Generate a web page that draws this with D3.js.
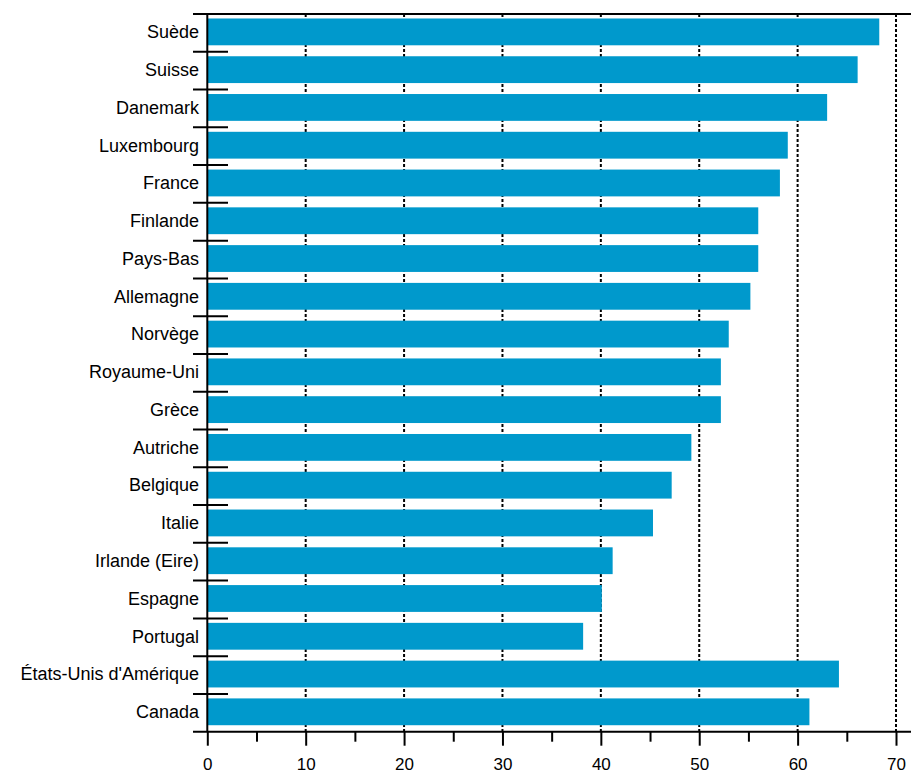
<!DOCTYPE html>
<html>
<head>
<meta charset="utf-8">
<script src="https://cdn.jsdelivr.net/npm/d3@7"></script>
<style>
  html, body { margin: 0; padding: 0; background: #fff; }
  svg { display: block; }
  text { font-family: "Liberation Sans", Arial, sans-serif; fill: #000; }
</style>
</head>
<body>
<svg id="chart" width="911" height="773"></svg>
<script>
const categories = ["Suède", "Suisse", "Danemark", "Luxembourg", "France", "Finlande", "Pays-Bas", "Allemagne", "Norvège", "Royaume-Uni", "Grèce", "Autriche", "Belgique", "Italie", "Irlande (Eire)", "Espagne", "Portugal", "États-Unis d'Amérique", "Canada"];
const values = [68.3, 66.1, 63.0, 59.0, 58.2, 56.0, 56.0, 55.2, 53.0, 52.2, 52.2, 49.2, 47.2, 45.3, 41.2, 40.1, 38.2, 64.2, 61.2];
const majorTicks = [0, 10, 20, 30, 40, 50, 60, 70];
const minorTicks = [5, 15, 25, 35, 45, 55, 65];
const gridTicks = [10, 20, 30, 40, 50, 60, 70];

(function () {
const svg = d3.select("#chart");
const pLeft = 207.3, pRight = 896, pTop = 14, pBottom = 731.7;

const x = d3.scaleLinear().domain([0, 70]).range([pLeft, pRight]);
const y = d3.scaleBand().domain(categories).range([pTop, pBottom])
  .paddingInner(0.29).paddingOuter(0.145);
const step = y.step();

// dotted grid lines (behind bars)
svg.append("g").selectAll("line").data(gridTicks).join("line")
  .attr("x1", d => x(d)).attr("x2", d => x(d))
  .attr("y1", pTop).attr("y2", pBottom)
  .attr("stroke", "#000").attr("stroke-width", 2)
  .attr("stroke-dasharray", "3,2");

// bars
svg.append("g").selectAll("rect").data(categories).join("rect")
  .attr("x", pLeft)
  .attr("y", d => y(d) - 1)
  .attr("width", (d, i) => x(values[i]) - pLeft)
  .attr("height", y.bandwidth())
  .attr("fill", "#0099cc");

// category labels
svg.append("g").selectAll("text").data(categories).join("text")
  .attr("x", 199)
  .attr("y", d => y(d) - 1 + y.bandwidth() / 2)
  .attr("dy", "0.35em")
  .attr("text-anchor", "end")
  .style("font-size", "18px")
  .text(d => d);

// category separator ticks
const seps = d3.range(1, categories.length).map(i => pTop + i * step);
svg.append("g").selectAll("line").data(seps).join("line")
  .attr("x1", 193).attr("x2", 228)
  .attr("y1", d => d).attr("y2", d => d)
  .attr("stroke", "#000").attr("stroke-width", 2);

// frame lines
svg.append("line").attr("x1", 193).attr("x2", 911).attr("y1", pTop).attr("y2", pTop)
  .attr("stroke", "#000").attr("stroke-width", 2);
svg.append("line").attr("x1", 193).attr("x2", 911).attr("y1", pBottom).attr("y2", pBottom)
  .attr("stroke", "#000").attr("stroke-width", 2);
svg.append("line").attr("x1", pLeft).attr("x2", pLeft).attr("y1", pTop).attr("y2", pBottom)
  .attr("stroke", "#000").attr("stroke-width", 2);

// x axis major ticks
const axMajor = svg.append("g").attr("transform", `translate(0,${pBottom})`)
  .call(d3.axisBottom(x).tickValues(majorTicks).tickSize(14).tickPadding(12).tickFormat(d3.format("d")));
axMajor.select(".domain").remove();
axMajor.selectAll(".tick line").attr("stroke", "#000").attr("stroke-width", 2);
axMajor.selectAll(".tick text").style("font-size", "17px").style("font-family", "'Liberation Sans', Arial, sans-serif").attr("fill", "#000");

// x axis minor ticks
const axMinor = svg.append("g").attr("transform", `translate(0,${pBottom})`)
  .call(d3.axisBottom(x).tickValues(minorTicks).tickSize(10).tickFormat(""));
axMinor.select(".domain").remove();
axMinor.selectAll(".tick line").attr("stroke", "#000").attr("stroke-width", 2);
})();
</script>
</body>
</html>
